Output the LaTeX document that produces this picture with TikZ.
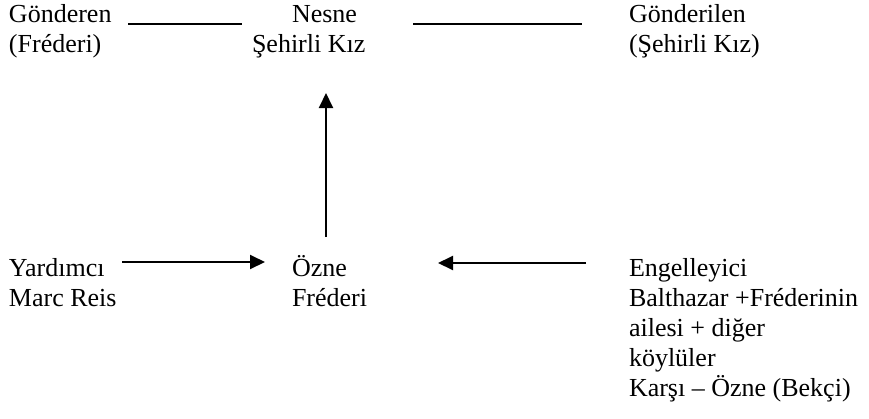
\documentclass[tikz,border=0pt]{standalone}
\usepackage{fontspec}
\setmainfont{Liberation Serif}
\usetikzlibrary{arrows.meta}
\tikzset{
  lbl/.style={anchor=base west, inner sep=0pt, outer sep=0pt,
    font=\fontsize{26}{30}\selectfont},
  conn/.style={line width=2pt},
  arr/.style={line width=2pt, -{Triangle[length=15pt,width=14pt]}}
}
\newcommand{\lines}[1]{\begin{tabular}[t]{@{}l@{}}#1\end{tabular}}
\begin{document}
\begin{tikzpicture}[x=1pt,y=-1pt]
\useasboundingbox (0,0) rectangle (869,418);
% nodes
\node[lbl] (gond) at (9,22.5) {\lines{Gönderen\\(Fréderi)}};
\node[lbl] (nesne) at (252,22.5) {\lines{\hspace*{40pt}Nesne\\Şehirli Kız}};
\node[lbl] (gonl) at (629,22.5) {\lines{Gönderilen\\(Şehirli Kız)}};
\node[lbl] (yard) at (9,276) {\lines{Yardımcı\\Marc Reis}};
\node[lbl] (ozne) at (292,276) {\lines{Özne\\Fréderi}};
\node[lbl] (eng) at (629,276) {\lines{Engelleyici\\Balthazar +Fréderinin\\ailesi + diğer\\köylüler\\Karşı – Özne (Bekçi)}};
% connector end points
\coordinate (l1a) at (128,23.5);
\coordinate (l1b) at (242,23.5);
\coordinate (l2a) at (413,23.5);
\coordinate (l2b) at (582,23.5);
\coordinate (vup) at (326,237);
\coordinate (vtip) at (326,93);
\coordinate (ra) at (122,262);
\coordinate (rtip) at (265,262);
\coordinate (la) at (586,263);
\coordinate (ltip) at (438,263);
% connectors
\draw[conn] (l1a) -- (l1b);
\draw[conn] (l2a) -- (l2b);
\draw[arr] (vup) -- (vtip);
\draw[arr] (ra) -- (rtip);
\draw[arr] (la) -- (ltip);
\end{tikzpicture}
\end{document}
